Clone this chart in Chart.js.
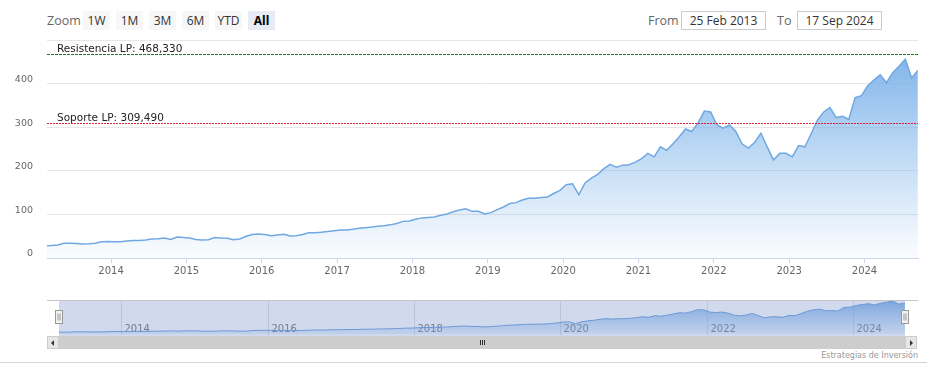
<!DOCTYPE html>
<html>
<head>
<meta charset="utf-8">
<script src="https://cdn.jsdelivr.net/npm/chart.js@4.4.1/dist/chart.umd.min.js"></script>
<style>
  body { margin: 0; background: #fff; width: 934px; height: 380px; position: relative; overflow: hidden; font-family: "Open Sans", sans-serif; }
  .abs { position: absolute; }
  .lbl { color: #666; font-size: 12.5px; line-height: 19px; top: 11px; }
  .btn { top: 11px; width: 27px; height: 19px; line-height: 19px; font-size: 12px; text-align: center; color: #333; background: #f7f7f7; }
  .btn.sel { background: #e6ebf5; font-weight: bold; color: #000; }
  .box { top: 11px; width: 85px; height: 19px; box-sizing: border-box; border: 1px solid #ccc; font-size: 12px; line-height: 17px; text-align: center; color: #333; }
  .sbtn { top: 336px; width: 12px; height: 13px; box-sizing: border-box; background: #e6e6e6; border: 1px solid #ccc; }
</style>
</head>
<body>
<div class="abs lbl" style="left:47px">Zoom</div>
<div class="abs btn" style="left:83px">1W</div>
<div class="abs btn" style="left:116px">1M</div>
<div class="abs btn" style="left:149px">3M</div>
<div class="abs btn" style="left:182px">6M</div>
<div class="abs btn" style="left:215px">YTD</div>
<div class="abs btn sel" style="left:248px">All</div>
<div class="abs lbl" style="left:648px">From</div>
<div class="abs box" style="left:681px">25 Feb 2013</div>
<div class="abs lbl" style="left:777px">To</div>
<div class="abs box" style="left:797px">17 Sep 2024</div>

<canvas id="main" class="abs" width="934" height="290" style="left:0;top:0"></canvas>
<canvas id="nav" class="abs" width="934" height="36" style="left:0;top:300px"></canvas>

<!-- scrollbar -->
<div class="abs" style="left:59px;top:336px;width:846px;height:13px;background:#cdcdcd"></div>
<div class="abs sbtn" style="left:47px"></div>
<div class="abs" style="left:51px;top:340px;width:0;height:0;border-top:3px solid transparent;border-bottom:3px solid transparent;border-right:3px solid #333"></div>
<div class="abs sbtn" style="left:905px"></div>
<div class="abs" style="left:910px;top:340px;width:0;height:0;border-top:3px solid transparent;border-bottom:3px solid transparent;border-left:3px solid #333"></div>
<div class="abs" style="left:480px;top:340px;width:1px;height:5px;background:#333"></div>
<div class="abs" style="left:482px;top:340px;width:1px;height:5px;background:#333"></div>
<div class="abs" style="left:484px;top:340px;width:1px;height:5px;background:#333"></div>

<div class="abs" style="left:0;top:362px;width:927px;height:1px;background:#d4d4d4"></div>
<div class="abs" style="right:16px;top:351px;font-family:'DejaVu Sans';font-size:8px;line-height:10px;color:#999">Estrategias de Inversión</div>

<script>
// monthly closes (mid-month), 2013 starts in February
const y2013 = [27.6, 28.5, 30, 34, 34, 33, 32, 32.5, 34, 37, 38];
const y2014 = [37, 37.5, 39, 40, 40, 41.5, 43.5, 44, 46, 42.5, 48, 47];
const y2015 = [46, 42.5, 41.5, 42, 47, 46, 45.5, 42, 43.5, 50, 54, 55];
const y2016 = [54, 51, 53, 54.5, 50.5, 51, 54, 58, 58, 59, 61, 62.5];
const y2017 = [64, 64.5, 66, 68, 69.5, 71, 73, 74, 76, 79, 84, 85];
const y2018 = [89, 92, 93, 94, 98, 101, 106, 110, 113, 107, 107, 101];
const y2019 = [104, 111, 117, 125, 127, 133, 137, 137, 139, 140, 148, 155];
const y2020 = [168, 170, 145, 172, 183, 192, 205, 215, 208, 213, 214, 220];
const y2021 = [228, 240, 232, 255, 247, 262, 278, 296, 290, 310, 337, 335];
const y2022 = [305, 298, 305, 290, 262, 252, 265, 286, 255, 225, 240, 240];
const y2023 = [232, 258, 255, 285, 316, 335, 345, 322, 325, 318, 368, 372];
const y2024 = [395, 408, 420, 402, 425, 440, 456, 413, 430];

const yearTicks = [2014, 2015, 2016, 2017, 2018, 2019, 2020, 2021, 2022, 2023, 2024];
const navTicks = [2014, 2016, 2018, 2020, 2022, 2024];
const resistencia = 468.33;
const soporte = 309.49;
const xMin = 2013.15, xMax = 2024.71;

function monthly(year, vals, first) {
  return vals.map((v, i) => ({ x: year + (first + i + 0.5) / 12, y: v }));
}
const points = [].concat(
  monthly(2013, y2013, 1), monthly(2014, y2014, 0), monthly(2015, y2015, 0),
  monthly(2016, y2016, 0), monthly(2017, y2017, 0), monthly(2018, y2018, 0),
  monthly(2019, y2019, 0), monthly(2020, y2020, 0), monthly(2021, y2021, 0),
  monthly(2022, y2022, 0), monthly(2023, y2023, 0), monthly(2024, y2024, 0)
);

function areaFill(ctx, a, b) {
  const chart = ctx.chart;
  const area = chart.chartArea;
  if (!area) return null;
  const g = chart.ctx.createLinearGradient(0, area.top, 0, area.bottom);
  g.addColorStop(0, a);
  g.addColorStop(1, b);
  return g;
}

const plotLines = {
  id: "plotLines",
  afterDatasetsDraw(chart) {
    const { ctx, chartArea, scales } = chart;
    const lines = [
      [resistencia, "#1f7a1f", [3, 1], "Resistencia LP: "],
      [soporte, "#e0203f", [2, 1], "Soporte LP: "],
    ];
    ctx.save();
    lines.forEach(([v, color, dash, text]) => {
      const y = Math.round(scales.y.getPixelForValue(v)) + 0.5;
      ctx.strokeStyle = color;
      ctx.lineWidth = 1;
      ctx.setLineDash(dash);
      ctx.beginPath();
      ctx.moveTo(chartArea.left, y);
      ctx.lineTo(chartArea.right, y);
      ctx.stroke();
      ctx.setLineDash([]);
      ctx.fillStyle = "#222";
      ctx.font = "10.5px 'DejaVu Sans'";
      ctx.textBaseline = "alphabetic";
      ctx.fillText(text + v.toFixed(3).replace(".", ","), chartArea.left + 10, y - 3);
    });
    ctx.restore();
  },
};

new Chart(document.getElementById("main"), {
  type: "line",
  data: {
    datasets: [{
      data: points,
      borderColor: "rgb(112,168,226)",
      borderWidth: 1.5,
      pointRadius: 0,
      tension: 0,
      fill: "origin",
      backgroundColor: (ctx) => areaFill(ctx, "rgba(112,170,230,0.95)", "rgba(124,181,236,0.03)"),
    }],
  },
  plugins: [plotLines],
  options: {
    responsive: false,
    animation: false,
    layout: { padding: { left: 0, right: 16, top: 40, bottom: 0 } },
    plugins: { legend: { display: false }, tooltip: { enabled: false } },
    scales: {
      x: {
        type: "linear",
        min: xMin,
        max: xMax,
        afterBuildTicks: (scale) => { scale.ticks = yearTicks.map((v) => ({ value: v })); },
        afterFit: (scale) => { scale.height = 32; },
        grid: { drawOnChartArea: false, drawTicks: true, tickLength: 5, color: "#ccd6eb" },
        border: { color: "#ccd6eb" },
        ticks: {
          autoSkip: false, maxRotation: 0, padding: 2, color: "#666",
          font: { family: "DejaVu Sans", size: 10 },
          callback: (v) => String(v),
        },
      },
      y: {
        min: 0,
        max: 500,
        afterFit: (scale) => { scale.width = 47; },
        grid: { color: "#e6e6e6", drawTicks: false },
        border: { display: false },
        ticks: {
          stepSize: 100, padding: 14, labelOffset: -4, color: "#666",
          font: { family: "DejaVu Sans", size: 9.5 },
          callback: (v) => (v === 500 ? "" : v),
        },
      },
    },
  },
});

// navigator
const navDecor = {
  id: "navDecor",
  beforeDatasetsDraw(chart) {
    const { ctx, chartArea, scales } = chart;
    ctx.save();
    ctx.strokeStyle = "#e0e0e0";
    ctx.lineWidth = 1;
    ctx.font = "10px 'DejaVu Sans'";
    ctx.fillStyle = "#7a7a7a";
    ctx.textBaseline = "middle";
    navTicks.forEach((v) => {
      const x = Math.round(scales.x.getPixelForValue(v)) + 0.5;
      ctx.beginPath();
      ctx.moveTo(x, chartArea.top);
      ctx.lineTo(x, chartArea.bottom);
      ctx.stroke();
      ctx.fillText(String(v), x + 3, 29);
    });
    ctx.restore();
  },
  afterDatasetsDraw(chart) {
    const { ctx, chartArea } = chart;
    ctx.save();
    ctx.fillStyle = "rgba(102,133,194,0.3)";
    ctx.fillRect(chartArea.left, 0, chartArea.right - chartArea.left, 36);
    ctx.strokeStyle = "#c4c4c4";
    ctx.beginPath();
    ctx.moveTo(47, 0.5);
    ctx.lineTo(918, 0.5);
    ctx.stroke();
    [chartArea.left, chartArea.right].forEach((x) => {
      const hx = Math.round(x) - 3.5;
      ctx.fillStyle = "#f2f2f2";
      ctx.strokeStyle = "#999";
      ctx.fillRect(hx, 10.5, 7, 13);
      ctx.strokeRect(hx, 10.5, 7, 13);
      ctx.beginPath();
      ctx.moveTo(hx + 2.5, 13.5); ctx.lineTo(hx + 2.5, 20.5);
      ctx.moveTo(hx + 4.5, 13.5); ctx.lineTo(hx + 4.5, 20.5);
      ctx.stroke();
    });
    ctx.restore();
  },
};

new Chart(document.getElementById("nav"), {
  type: "line",
  data: {
    datasets: [{
      data: points,
      borderColor: "rgb(110,160,220)",
      borderWidth: 1,
      pointRadius: 0,
      tension: 0,
      fill: "origin",
      backgroundColor: (ctx) => areaFill(ctx, "rgba(110,165,228,0.85)", "rgba(124,181,236,0.15)"),
    }],
  },
  plugins: [navDecor],
  options: {
    responsive: false,
    animation: false,
    layout: { padding: { left: 59, right: 29, top: 0, bottom: 1 } },
    plugins: { legend: { display: false }, tooltip: { enabled: false } },
    scales: {
      x: { type: "linear", min: xMin, max: xMax, display: false },
      y: { min: -10, max: 470, display: false },
    },
  },
});
</script>
</body>
</html>
